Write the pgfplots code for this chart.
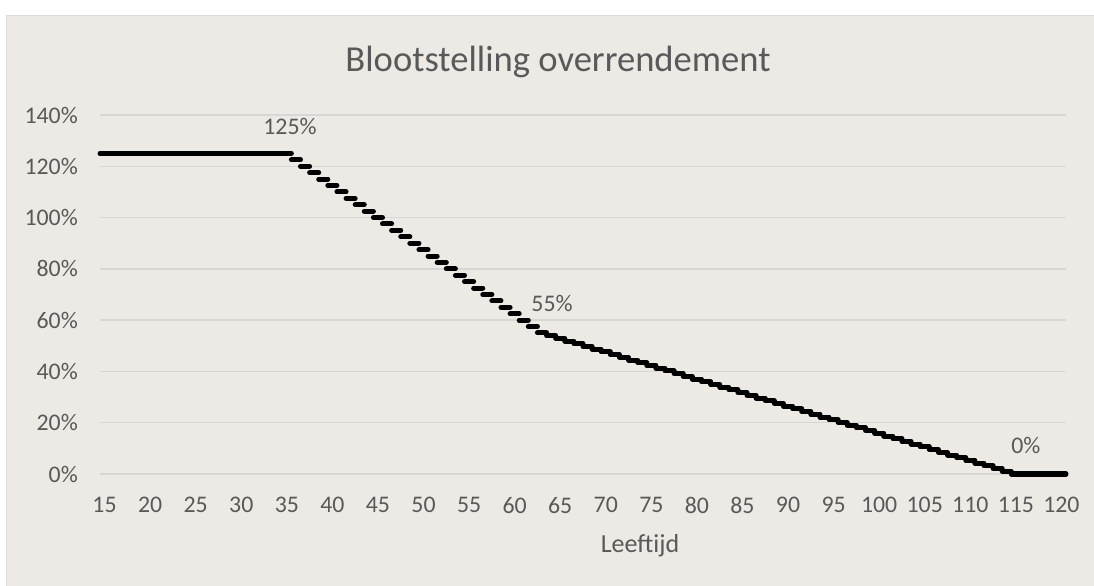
\documentclass[border=0pt]{standalone}
\usepackage{pgfplots}
\pgfplotsset{compat=1.18}
\usepackage{fontspec}
\setmainfont{Carlito}
\definecolor{bg}{RGB}{237,233,228}
\definecolor{txt}{RGB}{89,89,89}
\definecolor{gridc}{RGB}{216,215,212}
\definecolor{bord}{RGB}{220,218,214}
\begin{document}
\begin{tikzpicture}
\path[use as bounding box, fill=white] (0,0) rectangle (1094bp,586bp);
\fill[bg] (6.5bp,0) rectangle (1094bp,570.5bp);
\draw[bord, line width=1bp] (6.5bp,0) -- (6.5bp,570.5bp) -- (1094bp,570.5bp);
\node[anchor=base, text=txt, font=\fontsize{36.6bp}{40bp}\selectfont] at (558bp,514.5bp) {Blootstelling overrendement};
\node[anchor=base, text=txt, font=\fontsize{26bp}{30bp}\selectfont] at (640bp,34bp) {Leeftijd};
\begin{axis}[at={(100bp,112bp)}, anchor=south west, scale only axis,
  width=966bp, height=359bp,
  xmin=14.5, xmax=120.5, ymin=0, ymax=140,
  xtick={15,20,...,120}, ytick={0,20,...,140},
  ymajorgrids, major grid style={draw=gridc, line width=1.3bp},
  axis line style={draw=none}, major tick length=0pt,
  tick label style={font=\fontsize{23.8bp}{26bp}\selectfont, text=txt, inner sep=0pt},
  xticklabel style={anchor=north, yshift=-23bp},
  yticklabel style={anchor=east, xshift=-22bp},
  yticklabel={\pgfmathprintnumber{\tick}\%},
  /pgf/number format/assume math mode=true,
  clip=false]
\addplot[black, line width=5bp, jump mark left, line cap=round] table {
x y
14.5 125
15.5 125
16.5 125
17.5 125
18.5 125
19.5 125
20.5 125
21.5 125
22.5 125
23.5 125
24.5 125
25.5 125
26.5 125
27.5 125
28.5 125
29.5 125
30.5 125
31.5 125
32.5 125
33.5 125
34.5 125
35.5 122.5
36.5 120
37.5 117.5
38.5 115
39.5 112.5
40.5 110
41.5 107.5
42.5 105
43.5 102.5
44.5 100
45.5 97.5
46.5 95
47.5 92.5
48.5 90
49.5 87.5
50.5 85
51.5 82.5
52.5 80
53.5 77.5
54.5 75
55.5 72.5
56.5 70
57.5 67.5
58.5 65
59.5 62.5
60.5 60
61.5 57.5
62.5 55
63.5 53.94
64.5 52.88
65.5 51.83
66.5 50.77
67.5 49.71
68.5 48.65
69.5 47.60
70.5 46.54
71.5 45.48
72.5 44.42
73.5 43.37
74.5 42.31
75.5 41.25
76.5 40.19
77.5 39.13
78.5 38.08
79.5 37.02
80.5 35.96
81.5 34.90
82.5 33.85
83.5 32.79
84.5 31.73
85.5 30.67
86.5 29.62
87.5 28.56
88.5 27.50
89.5 26.44
90.5 25.38
91.5 24.33
92.5 23.27
93.5 22.21
94.5 21.15
95.5 20.10
96.5 19.04
97.5 17.98
98.5 16.92
99.5 15.87
100.5 14.81
101.5 13.75
102.5 12.69
103.5 11.63
104.5 10.58
105.5 9.52
106.5 8.46
107.5 7.40
108.5 6.35
109.5 5.29
110.5 4.23
111.5 3.17
112.5 2.12
113.5 1.06
114.5 0
115.5 0
116.5 0
117.5 0
118.5 0
119.5 0
120.5 0
};
\node[text=txt, font=\fontsize{23.8bp}{26bp}\selectfont] at (axis cs:35.35,135.5) {125\%};
\node[text=txt, font=\fontsize{23.8bp}{26bp}\selectfont] at (axis cs:64.1,66.5) {55\%};
\node[text=txt, font=\fontsize{23.8bp}{26bp}\selectfont] at (axis cs:116.1,11.3) {0\%};
\end{axis}
\end{tikzpicture}
\end{document}
